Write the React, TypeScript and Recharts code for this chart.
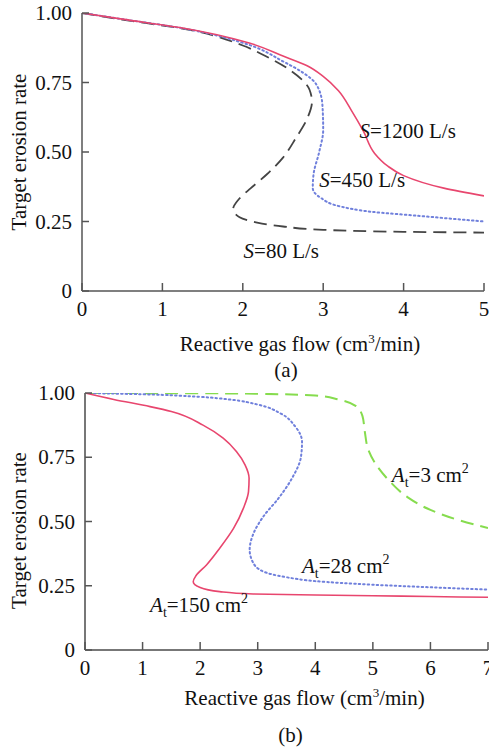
import { LineChart, Line, XAxis, YAxis, ReferenceDot, Label } from "recharts";

const FONT = "Liberation Serif";
const txt = { fontFamily: FONT, fontSize: 21, fill: "#111" };

// panel (a): pumping speed
const xTicksA = [0, 1, 2, 3, 4, 5];
// panel (b): target area
const xTicksB = [0, 1, 2, 3, 4, 5, 6, 7];
const yTicks = [0, 0.25, 0.5, 0.75, 1];
const yTickLabels = ["0", "0.25", "0.50", "0.75", "1.00"];

const s1200: [number, number][] = [
  [0, 1.0], [0.5, 0.978], [1.25, 0.946], [2.08, 0.892], [2.5, 0.845], [2.8, 0.81],
  [3.0, 0.772], [3.19, 0.72], [3.35, 0.65], [3.5, 0.575], [3.64, 0.495], [3.8, 0.45],
  [4.0, 0.415], [4.5, 0.37], [5, 0.342],
];
const s450: [number, number][] = [
  [0, 1.0], [0.5, 0.978], [1.25, 0.945], [2.08, 0.885], [2.5, 0.826], [2.75, 0.785],
  [2.91, 0.745], [2.99, 0.67], [3.0, 0.58], [2.95, 0.5], [2.88, 0.42], [2.87, 0.37],
  [2.97, 0.335], [3.2, 0.305], [3.6, 0.285], [4.2, 0.27], [5, 0.25],
];
const s80: [number, number][] = [
  [0, 1.0], [0.5, 0.976], [1.25, 0.944], [2.0, 0.883], [2.25, 0.85], [2.58, 0.796],
  [2.83, 0.724], [2.86, 0.68], [2.8, 0.62], [2.66, 0.55], [2.5, 0.48], [2.3, 0.42],
  [2.1, 0.37], [1.95, 0.33], [1.88, 0.295], [1.96, 0.265], [2.15, 0.248], [2.5, 0.232],
  [3.0, 0.22], [4, 0.213], [5, 0.21],
];

const a150: [number, number][] = [
  [0, 1.0], [0.5, 0.975], [1.13, 0.947], [1.5, 0.928], [2.05, 0.875], [2.4, 0.824],
  [2.63, 0.772], [2.78, 0.72], [2.85, 0.668], [2.84, 0.616], [2.75, 0.551], [2.58, 0.473],
  [2.34, 0.396], [2.11, 0.331], [1.93, 0.29], [1.88, 0.266], [2.0, 0.243], [2.34, 0.227],
  [2.92, 0.218], [4, 0.214], [5, 0.211], [6, 0.208], [7, 0.205],
];
const a28: [number, number][] = [
  [0, 1.0], [1, 0.995], [2, 0.985], [2.5, 0.975], [3, 0.955], [3.4, 0.92], [3.65, 0.87],
  [3.77, 0.81], [3.75, 0.75], [3.6, 0.67], [3.36, 0.59], [3.1, 0.52], [2.92, 0.45],
  [2.86, 0.39], [2.92, 0.34], [3.1, 0.305], [3.5, 0.283], [4, 0.268], [5, 0.254],
  [6, 0.244], [7, 0.235],
];
const a3: [number, number][] = [
  [0, 1.0], [1, 0.9995], [2, 0.999], [3, 0.997], [4, 0.99], [4.4, 0.975], [4.7, 0.95],
  [4.82, 0.91], [4.86, 0.85], [4.92, 0.78], [5.06, 0.72], [5.3, 0.655], [5.6, 0.595],
  [6, 0.545], [6.5, 0.505], [7, 0.475],
];

const pts = (arr: [number, number][]) => arr.map(([x, y]) => ({ x, y }));

const YTick = (props: any) => {
  const { x, y, payload } = props;
  const i = yTicks.indexOf(payload.value);
  return (
    <g>
      <line x1={x} x2={x + 7} y1={y} y2={y} stroke="#555" strokeWidth={1.5} />
      <text x={x - 10} y={y + 7} textAnchor="end" style={txt}>
        {yTickLabels[i]}
      </text>
    </g>
  );
};

const XTick = (props: any) => {
  const { x, y, payload } = props;
  return (
    <g>
      <line x1={x} x2={x} y1={y} y2={y - 8} stroke="#555" strokeWidth={1.5} />
      <text x={x} y={y + 25} textAnchor="middle" style={txt}>
        {payload.value}
      </text>
    </g>
  );
};

const yLabel = (shift: number) => (props: any) => {
  const vb = props.viewBox;
  const cx = vb.x + 26;
  const cy = vb.y + vb.height / 2 + shift;
  return (
    <text x={cx} y={cy} transform={`rotate(-90, ${cx}, ${cy})`} textAnchor="middle" style={txt}>
      Target erosion rate
    </text>
  );
};

const xLabel = (dx: number, dy: number, tag: string, tdx: number, tdy: number) => (props: any) => {
  const vb = props.viewBox;
  const cx = vb.x + vb.width / 2;
  return (
    <g>
      <text x={cx + dx} y={vb.y + dy} textAnchor="middle" style={txt}>
        Reactive gas flow (cm<tspan fontSize={13} dy={-8}>3</tspan><tspan dy={8}>/min)</tspan>
      </text>
      <text x={cx + tdx} y={vb.y + tdy} textAnchor="middle" style={txt}>{tag}</text>
    </g>
  );
};

const sLabel = (val: string) => (props: any) => {
  const vb = props.viewBox;
  return (
    <text x={vb.cx ?? vb.x} y={vb.cy ?? vb.y} style={txt}>
      <tspan fontStyle="italic">S</tspan>={val} L/s
    </text>
  );
};

const aLabel = (val: string) => (props: any) => {
  const vb = props.viewBox;
  return (
    <text x={vb.cx ?? vb.x} y={vb.cy ?? vb.y} style={txt}>
      <tspan fontStyle="italic">A</tspan>
      <tspan fontSize={14} dy={5}>t</tspan>
      <tspan dy={-5}>={val} cm</tspan>
      <tspan fontSize={14} dy={-9}>2</tspan>
    </text>
  );
};

export default function App() {
  return (
    <div style={{ position: "absolute", left: 0, top: 0, width: 489, height: 747, background: "#fff", fontFamily: FONT }}>
      <div style={{ position: "absolute", left: 0, top: 0 }}>
        <LineChart width={489} height={390} margin={{ top: 13, right: 5, left: 0, bottom: 0 }}>
          <XAxis type="number" dataKey="x" domain={[0, 5]} ticks={xTicksA} interval={0}
            height={99} tickSize={0} tickMargin={0} tickLine={false} tick={XTick}
            axisLine={{ stroke: "#555", strokeWidth: 1.5 }} allowDataOverflow>
            <Label content={xLabel(17, 60, "(a)", 3, 86)} />
          </XAxis>
          <XAxis xAxisId="top" orientation="top" type="number" domain={[0, 5]} height={0}
            tick={false} tickLine={false} axisLine={{ stroke: "#555", strokeWidth: 1.5 }} />
          <YAxis type="number" domain={[0, 1]} ticks={yTicks} interval={0} width={82}
            tickSize={0} tickMargin={0} tickLine={false} tick={YTick}
            axisLine={{ stroke: "#555", strokeWidth: 1.5 }} allowDataOverflow>
            <Label content={yLabel(0)} />
          </YAxis>
          <YAxis yAxisId="right" orientation="right" type="number" domain={[0, 1]} width={0}
            tick={false} tickLine={false} axisLine={{ stroke: "#555", strokeWidth: 1.5 }} />
          <Line data={pts(s80)} dataKey="y" type="monotoneY" stroke="#444" strokeWidth={1.8}
            strokeDasharray="13 7" dot={false} isAnimationActive={false} />
          <Line data={pts(s450)} dataKey="y" type="monotoneY" stroke="#7080dc" strokeWidth={2}
            strokeDasharray="1.5 3" strokeLinecap="round" dot={false} isAnimationActive={false} />
          <Line data={pts(s1200)} dataKey="y" type="monotoneY" stroke="#e8466e" strokeWidth={1.6}
            dot={false} isAnimationActive={false} />
          <ReferenceDot x={3.45} y={0.55} r={0} fill="none" stroke="none" label={sLabel("1200")} />
          <ReferenceDot x={2.95} y={0.374} r={0} fill="none" stroke="none" label={sLabel("450")} />
          <ReferenceDot x={2.01} y={0.119} r={0} fill="none" stroke="none" label={sLabel("80")} />
        </LineChart>
      </div>
      <div style={{ position: "absolute", left: 0, top: 380 }}>
        <LineChart width={489} height={367} margin={{ top: 13, right: 1, left: 0, bottom: 0 }}>
          <XAxis type="number" dataKey="x" domain={[0, 7]} ticks={xTicksB} interval={0}
            height={97} tickSize={0} tickMargin={0} tickLine={false} tick={XTick}
            axisLine={{ stroke: "#777", strokeWidth: 2 }} allowDataOverflow>
            <Label content={xLabel(18, 55, "(b)", 4, 92)} />
          </XAxis>
          <XAxis xAxisId="top" orientation="top" type="number" domain={[0, 7]} height={0}
            tick={false} tickLine={false} axisLine={{ stroke: "#777", strokeWidth: 1.5 }} />
          <YAxis type="number" domain={[0, 1]} ticks={yTicks} interval={0} width={85}
            tickSize={0} tickMargin={0} tickLine={false} tick={YTick}
            axisLine={{ stroke: "#777", strokeWidth: 2 }} allowDataOverflow>
            <Label content={yLabel(9)} />
          </YAxis>
          <YAxis yAxisId="right" orientation="right" type="number" domain={[0, 1]} width={0}
            tick={false} tickLine={false} axisLine={{ stroke: "#777", strokeWidth: 1.5 }} />
          <Line data={pts(a3)} dataKey="y" type="monotoneY" stroke="#86dc4e" strokeWidth={2}
            strokeDasharray="13 7" dot={false} isAnimationActive={false} />
          <Line data={pts(a28)} dataKey="y" type="monotoneY" stroke="#7080dc" strokeWidth={2}
            strokeDasharray="1.5 3" strokeLinecap="round" dot={false} isAnimationActive={false} />
          <Line data={pts(a150)} dataKey="y" type="monotoneY" stroke="#e8466e" strokeWidth={1.6}
            dot={false} isAnimationActive={false} />
          <ReferenceDot x={5.33} y={0.654} r={0} fill="none" stroke="none" label={aLabel("3")} />
          <ReferenceDot x={3.77} y={0.3} r={0} fill="none" stroke="none" label={aLabel("28")} />
          <ReferenceDot x={1.13} y={0.148} r={0} fill="none" stroke="none" label={aLabel("150")} />
        </LineChart>
      </div>
    </div>
  );
}
